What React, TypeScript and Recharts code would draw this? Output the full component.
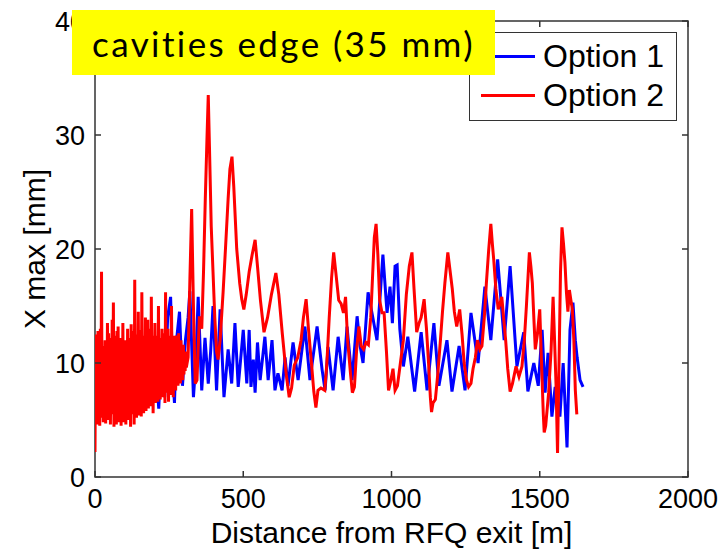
import { Line, LineChart, ReferenceArea, XAxis, YAxis } from 'recharts';

// Option 1 (blue) -- distance [m] and X max [mm]
const opt1Dist = [
  0, 10, 20, 35, 50, 65, 80, 95, 110, 125, 140, 155, 170, 185, 200, 215, 225, 235, 245, 255, 262, 268, 275,
  285, 295, 305, 314, 320, 332, 340, 348, 360, 371, 382, 390, 398, 410, 422, 435, 449, 461, 472, 483, 500,
  512, 520, 526, 534, 540, 548, 557, 573, 584, 597, 607, 617, 631, 641, 651, 668, 685, 708, 725, 749, 766,
  776, 786, 803, 820, 837, 850, 867, 884, 894, 904, 921, 934, 951, 962, 971, 985, 995, 1003, 1012, 1019,
  1028, 1040, 1055, 1078, 1100, 1120, 1143, 1160, 1187, 1204, 1228, 1248, 1268, 1292, 1315, 1335, 1358,
  1380, 1400, 1423, 1446, 1460, 1480, 1495, 1508, 1518, 1528, 1541, 1552, 1568, 1579, 1592, 1602, 1612,
  1620, 1626, 1636, 1646,
];
const opt1Xmax = [
  8, 7, 10, 7.5, 10.5, 8, 11, 8.5, 11.5, 9, 12, 8.5, 11, 8, 12, 6, 12, 7, 14, 15.8, 9, 6.5, 12,
  14.5, 8, 12, 14, 16.3, 7, 10, 15.8, 7.6, 12.2, 8.2, 11, 15, 7.6, 14.7, 7, 11.2, 8.2, 13.5, 7.9, 12.9,
  8.2, 12.9, 7.9, 10.3, 7.4, 11.8, 8.5, 12.3, 8.5, 12, 7.6, 9.1, 7.6, 10.5, 8, 11.8, 8.5, 13.2, 8.5, 13.2, 9.4,
  7.6, 11.4, 7.6, 12.3, 8.5, 13.2, 8.5, 14.1, 11.5, 10, 16.2, 14.4, 12, 16, 19.5, 14.4, 16.7, 13.5, 18.5, 18.6,
  13, 9.7, 12.3, 7.5, 12.7, 7.6, 13.5, 8, 12, 7.5, 11.5, 7.6, 14.4, 10, 16.7, 12, 19.1,
  12, 18.5, 9.7, 12.7, 7.5, 10, 8, 12.9, 7.4, 10.9, 5.3, 7.9, 5.3, 10, 2.6, 12.9, 15.3,
  12, 10.5, 8.5, 7.9,
];

// Option 2 (red) -- distance [m] and X max [mm]
const opt2Dist = [
  0, 2, 4, 6, 8, 10, 12, 14, 16, 18, 20, 22, 24, 26, 28, 30, 32, 34, 36, 38, 40, 42, 44, 46, 48, 50,
  52, 54, 56, 58, 60, 62, 64, 66, 68, 70, 72, 74, 76, 78, 80, 82, 84, 86, 88, 90, 92, 94, 96, 98, 100,
  102, 104, 106, 108, 110, 112, 114, 116, 118, 120, 122, 124, 126, 128, 130, 132, 134, 136, 138, 140,
  142, 144, 146, 148, 150, 152, 154, 156, 158, 160, 162, 164, 166, 168, 170, 172, 174, 176, 178, 180,
  182, 184, 186, 188, 190, 192, 194, 196, 198, 200, 202, 204, 206, 208, 210, 212, 214, 216, 218, 220,
  222, 224, 226, 228, 230, 232, 234, 236, 238, 240, 242, 244, 246, 248, 250, 252, 254, 256, 258, 260,
  262, 264, 266, 268, 270, 272, 274, 276, 278, 280, 282, 284, 286, 288, 290, 292, 294, 296, 298, 300,
  302, 304, 306, 308, 314, 320, 326, 332, 338, 344, 352, 360, 366, 372, 378,
  382, 386, 392, 398, 404, 410, 415, 422, 432, 440, 449, 455, 462, 468, 478, 488, 495, 502, 510, 520, 530,
  540, 548, 558, 570, 582, 595, 610, 620, 632, 645, 655, 663, 672, 684, 695, 703, 712, 720, 730, 738, 745,
  752, 762, 775, 782, 790, 798, 805, 812, 822, 830, 838, 845, 852, 862, 868, 875, 882, 890, 898, 906, 914,
  922, 930, 936, 942, 948, 954, 960, 968, 975, 983, 990, 998, 1005, 1012, 1020, 1030, 1040, 1050, 1060,
  1069, 1076, 1085, 1093, 1100, 1110, 1118, 1125, 1131, 1135, 1140, 1148, 1156, 1165, 1172, 1180, 1190,
  1197, 1205, 1212, 1220, 1230, 1238, 1245, 1253, 1260, 1268, 1275, 1283, 1290, 1298, 1305, 1313, 1320,
  1328, 1335, 1340, 1345, 1352, 1360, 1366, 1372, 1378, 1385, 1392, 1400, 1408, 1420, 1430, 1440, 1448,
  1455, 1465, 1470, 1475, 1480, 1485, 1492, 1500, 1506, 1512, 1515, 1520, 1530, 1538, 1545, 1550, 1555,
  1560, 1565, 1570, 1575, 1580, 1585, 1590, 1595, 1600, 1605, 1610, 1615, 1620, 1625,
];
const opt2Xmax = [
  2.2, 12.5, 5, 11, 4.6, 12.8, 5.5, 10.5, 4.5, 13, 6, 18, 5.2, 11.5, 4.8, 10.2, 6.5, 12, 4.7, 11.2,
  5.8, 13.5, 5, 12.6, 6.2, 10.8, 4.6, 12.2, 5.5, 13.8, 6.4, 15.3, 4.4, 12.4, 5.6, 10.2, 4.6, 12.8, 6,
  13.2, 4.8, 11, 5.5, 12.2, 4.5, 11.2, 6.3, 13.5, 4.8, 10.8, 5.9, 12, 4.6, 11.6, 6.2, 13, 5, 12.2, 6.8,
  11, 4.4, 13.4, 5.5, 12.8, 6.5, 11.4, 4.6, 17.3, 6, 12.5, 5.2, 10.6, 6.8, 14.5, 5.4, 12.9, 7, 11.6,
  5.3, 16.2, 6.6, 12.4, 5.6, 11, 7.2, 14, 5.8, 12.5, 7, 13.8, 6, 11.8, 7.4, 13, 6.2, 15.8, 7.6, 12.4,
  5.6, 11.5, 7.2, 13.5, 6.5, 11, 7.8, 12.4, 6.6, 15, 8, 12.2, 6.8, 11.8, 8.2, 13, 7, 11.2, 8.5, 12.6,
  6.5, 16.2, 7.4, 11.6, 8.8, 13, 6.6, 11.2, 8, 12.4, 7.2, 15, 8.4, 11.8, 7, 12.4, 8.6, 11, 7.6, 12.4,
  8.8, 11.4, 8, 12.6, 9, 11, 8.2, 12, 9.2, 10.8, 8.5, 11.6, 9, 10.6, 9.3, 11, 9.6, 10.5, 17.3, 23.5,
  15, 8.2, 8.5, 14.1, 13, 18, 24.4, 30, 33.5, 29, 22, 18, 14, 11, 10.3, 12, 16.2, 20, 24.4, 27, 28.1,
  25.5, 20, 17, 15.6, 14.7, 16, 18, 19.5, 20.8, 18.5, 15.5, 12.7, 14, 16, 17.9, 16, 12.5, 9, 7, 7.8,
  9.8, 10.5, 12, 14, 15.6, 13, 10, 7.5, 6.1, 7.6, 7.8, 7.6, 10, 14, 17.5, 19.7, 18, 15.5, 15.2, 14.4,
  15.8, 12, 9, 7.4, 7.9, 11, 13.2, 11.5, 11.2, 11.8, 11.6, 14, 17.5, 21, 22.2, 19.5, 15.5, 14.4, 14.4,
  11, 7.6, 8.5, 9.5, 7.6, 8, 10, 12, 16, 18.5, 19.7, 16.5, 12.7, 13.5, 14, 15.6, 13, 10, 7, 5.7, 6.5,
  6.8, 9, 12, 14.5, 17, 19.7, 18.2, 16.5, 14.5, 13.2, 14.7, 12.5, 10, 8.5, 7.9, 8.2, 9.5, 10.5, 12, 11.2,
  11.5, 14, 17, 20, 22.2, 20.5, 19, 16.5, 14.7, 15.2, 15.8, 14, 12, 9.5, 7.5, 8.2, 9.7, 8.8, 9.7, 12,
  15, 19.7, 18.5, 17, 14, 11.2, 12.5, 14.7, 10, 5.5, 3.9, 4.5, 7.4, 11, 15.8, 12, 8, 2.1, 10, 18, 21.9,
  20.5, 18.8, 16.2, 14.5, 16.4, 15.5, 14.7, 12, 7.6, 5.5,
];

const xTicks = [0, 500, 1000, 1500, 2000];
const yTicks = [0, 10, 20, 30, 40];
const seriesNames = ['Option 1', 'Option 2'];
const seriesColors = ['#0000FF', '#FF0000'];

const opt1Data = opt1Dist.map((d, i) => ({ d, x: opt1Xmax[i] }));
const opt2Data = opt2Dist.map((d, i) => ({ d, x: opt2Xmax[i] }));

const W = 725;
const H = 557;
const PLOT_LEFT = 95;
const PLOT_RIGHT = 688;
const PLOT_TOP = 21;
const PLOT_BOTTOM = 477;
const AXIS = '#333';
const FONT = '"Liberation Sans", Arial, sans-serif';

const XTick = ({ x, payload }: any) => (
  <g>
    <line x1={x} x2={x} y1={PLOT_BOTTOM} y2={PLOT_BOTTOM - 6} stroke={AXIS} strokeWidth={1.5} />
    <line x1={x} x2={x} y1={PLOT_TOP} y2={PLOT_TOP + 6} stroke={AXIS} strokeWidth={1.5} />
    <text x={x} y={PLOT_BOTTOM + 31} textAnchor="middle" fontSize={27} fontFamily={FONT} fill="#000">
      {payload.value}
    </text>
  </g>
);

const YTick = ({ y, payload }: any) => (
  <g>
    <line x1={PLOT_LEFT} x2={PLOT_LEFT + 6} y1={y} y2={y} stroke={AXIS} strokeWidth={1.5} />
    <line x1={PLOT_RIGHT - 6} x2={PLOT_RIGHT} y1={y} y2={y} stroke={AXIS} strokeWidth={1.5} />
    <text x={PLOT_LEFT - 10} y={y + 10} textAnchor="end" fontSize={27} fontFamily={FONT} fill="#000">
      {payload.value}
    </text>
  </g>
);

// legend drawn as a plain overlay so it takes no room from the plot
const LegendBox = () => (
  <div
    style={{
      position: 'absolute',
      left: 469,
      top: 32,
      boxSizing: 'border-box',
      width: 208,
      height: 89,
      border: `1.5px solid ${AXIS}`,
      background: '#fff',
      paddingTop: 4,
    }}>
    {seriesNames.map((name, i) => (
      <div key={name} style={{ display: 'flex', alignItems: 'center', height: 39 }}>
        <span
          style={{ display: 'inline-block', width: 54, height: 3, marginLeft: 11, background: seriesColors[i] }}
        />
        <span style={{ marginLeft: 8, fontSize: 32, fontFamily: FONT, color: '#000' }}>{name}</span>
      </div>
    ))}
  </div>
);

export default function App() {
  return (
    <div style={{ position: 'absolute', left: 0, top: 0, width: W, height: H, background: '#fff' }}>
      <LineChart
        width={W}
        height={H}
        margin={{ top: PLOT_TOP, right: W - PLOT_RIGHT, bottom: 0, left: 0 }}>
        <XAxis
          type="number"
          dataKey="d"
          domain={[0, 2000]}
          ticks={xTicks}
          height={H - PLOT_BOTTOM}
          axisLine={false}
          tickLine={false}
          tick={<XTick />}
          interval={0}
          allowDataOverflow
          label={{
            value: 'Distance from RFQ exit [m]',
            position: 'insideBottom',
            offset: 14,
            fontSize: 30,
            fontFamily: FONT,
            fill: '#000',
          }}
        />
        <YAxis
          type="number"
          domain={[0, 40]}
          ticks={yTicks}
          width={PLOT_LEFT}
          axisLine={false}
          tickLine={false}
          tick={<YTick />}
          interval={0}
          allowDataOverflow
          label={{
            value: 'X max [mm]',
            angle: -90,
            position: 'insideLeft',
            offset: 34,
            fontSize: 30,
            fontFamily: FONT,
            fill: '#000',
            style: { textAnchor: 'middle' },
          }}
        />
        <ReferenceArea
          x1={0}
          x2={2000}
          y1={0}
          y2={40}
          fill="none"
          stroke={AXIS}
          strokeWidth={1.5}
          fillOpacity={0}
        />
        <Line
          data={opt1Data}
          dataKey="x"
          name={seriesNames[0]}
          type="linear"
          stroke={seriesColors[0]}
          strokeWidth={3}
          dot={false}
          isAnimationActive={false}
        />
        <Line
          data={opt2Data}
          dataKey="x"
          name={seriesNames[1]}
          type="linear"
          stroke={seriesColors[1]}
          strokeWidth={3}
          dot={false}
          isAnimationActive={false}
        />
      </LineChart>
      <LegendBox />
      <div
        style={{
          position: 'absolute',
          left: 72,
          top: 10,
          width: 423,
          height: 65,
          background: '#FFFF00',
          display: 'flex',
          alignItems: 'center',
          justifyContent: 'center',
          fontFamily: '"Comic Sans MS", Lato, sans-serif',
          fontSize: 35,
          letterSpacing: 2.4,
          color: '#000',
        }}>
        cavities edge (35 mm)
      </div>
    </div>
  );
}
